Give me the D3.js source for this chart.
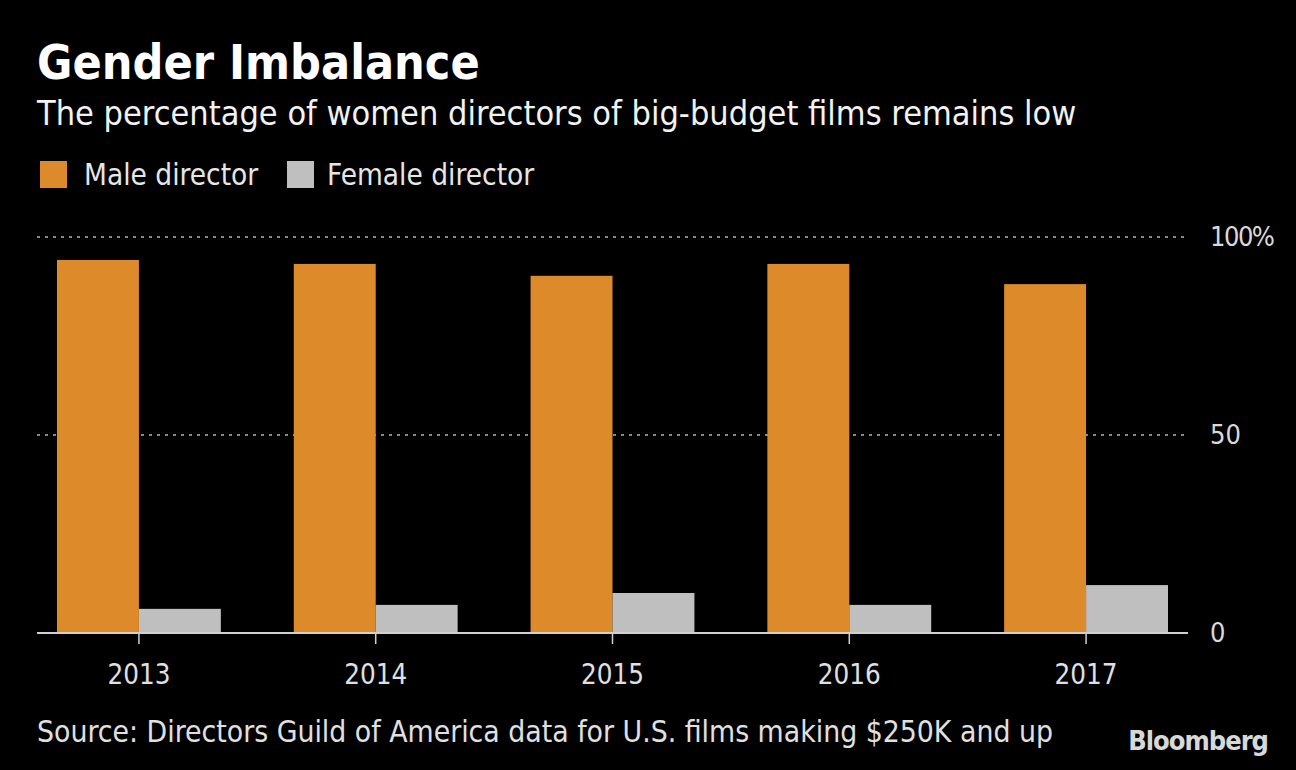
<!DOCTYPE html>
<html><head><meta charset="utf-8">
<script src="https://cdn.jsdelivr.net/npm/d3@7"></script>
<style>
html,body{margin:0;padding:0;background:#000;}
svg{display:block;}
text{font-family:"DejaVu Sans Condensed","DejaVu Sans",sans-serif;}
</style></head><body>
<script>
const years = ["2013","2014","2015","2016","2017"];
const maleValues = [94.2, 93.2, 90.2, 93.2, 88.1];
const femaleValues = [6.1, 7.1, 10.1, 7.1, 12.1];
const seriesNames = ["Male director","Female director"];
const seriesColors = ["#dc8a2a","#bfbfbf"];
const yTicks = [0, 50, 100];
const yTickLabels = ["0","50","100%"];

const W = 1296, H = 770;
const svg = d3.select("body").append("svg").attr("width", W).attr("height", H);
svg.append("rect").attr("width", W).attr("height", H).attr("fill", "#000");

const plotLeft = 37, plotRight = 1188, baseY = 633, topY = 237;
const x = d3.scaleBand().domain(years).range([57, 1168]).paddingInner(0.308).paddingOuter(0);
const x1 = d3.scaleBand().domain(seriesNames).range([0, x.bandwidth()]).padding(0);
const y = d3.scaleLinear().domain([0, 100]).range([baseY, topY]);

// title
svg.append("text").attr("x", 37).attr("y", 79).attr("fill", "#fff")
  .attr("font-size", 48).attr("font-weight", "bold").text("Gender Imbalance");
svg.append("text").attr("x", 37).attr("y", 125).attr("fill", "#f2f2f2")
  .attr("font-size", 34).text("The percentage of women directors of big-budget films remains low");

// legend
const legendX = [40, 287];
const legendTextX = [84, 327];
seriesNames.forEach((n, i) => {
  svg.append("rect").attr("x", legendX[i]).attr("y", 161).attr("width", 27).attr("height", 27).attr("fill", seriesColors[i]);
  svg.append("text").attr("x", legendTextX[i]).attr("y", 185).attr("fill", "#e6e6e6")
    .attr("font-size", 29.5).text(n);
});

// gridlines
svg.append("g").selectAll("line").data(yTicks.filter(d => d > 0)).join("line")
  .attr("x1", plotLeft).attr("x2", plotRight)
  .attr("y1", d => y(d)).attr("y2", d => y(d))
  .attr("stroke", "#8a8a8a").attr("stroke-width", 2).attr("stroke-dasharray", "3,5");

// y tick labels
svg.append("g").selectAll("text").data(yTicks).join("text")
  .attr("x", 1210).attr("y", d => y(d)).attr("dy", "0.35em")
  .attr("fill", "#d9d9d9").attr("font-size", 27).attr("letter-spacing", d => d === 100 ? -1.5 : 0)
  .text((d, i) => yTickLabels[i]);

// bars
const data = years.map((yr, i) => ({year: yr, vals: [maleValues[i], femaleValues[i]]}));
const groups = svg.append("g").selectAll("g").data(data).join("g")
  .attr("transform", d => `translate(${x(d.year)},0)`);
groups.selectAll("rect").data(d => d.vals.map((v, i) => ({v, name: seriesNames[i], i}))).join("rect")
  .attr("x", d => x1(d.name)).attr("width", x1.bandwidth())
  .attr("y", d => y(d.v)).attr("height", d => y(0) - y(d.v))
  .attr("fill", d => seriesColors[d.i]);

// baseline
svg.append("line").attr("x1", plotLeft).attr("x2", plotRight).attr("y1", baseY).attr("y2", baseY)
  .attr("stroke", "#d0d0d0").attr("stroke-width", 2);

// x axis ticks & labels
const xa = svg.append("g");
xa.selectAll("line").data(years).join("line")
  .attr("x1", d => x(d) + x.bandwidth()/2).attr("x2", d => x(d) + x.bandwidth()/2)
  .attr("y1", baseY).attr("y2", baseY + 11).attr("stroke", "#d0d0d0").attr("stroke-width", 1.5);
xa.selectAll("text").data(years).join("text")
  .attr("x", d => x(d) + x.bandwidth()/2).attr("y", 684)
  .attr("text-anchor", "middle").attr("fill", "#e0e0e0").attr("font-size", 27.5).text(d => d);

// source
svg.append("text").attr("x", 37).attr("y", 742).attr("fill", "#e0e0e0")
  .attr("font-size", 29.8).text("Source: Directors Guild of America data for U.S. films making $250K and up");
svg.append("text").attr("x", 1268).attr("y", 750).attr("text-anchor", "end").attr("fill", "#d8d8d8")
  .attr("font-size", 27).attr("font-weight", "bold").attr("letter-spacing", -1)
  .attr("font-family", "'Liberation Sans Narrow','Liberation Sans',Arial,sans-serif").text("Bloomberg");
</script>
</body></html>
